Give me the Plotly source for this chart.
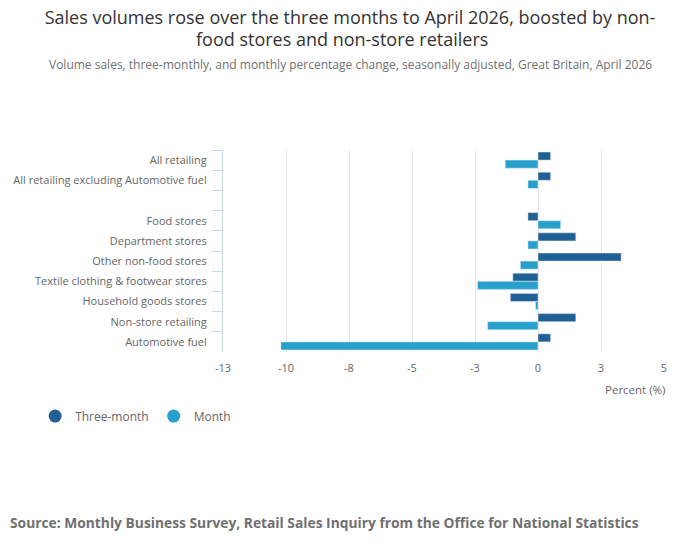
import plotly.graph_objects as go

categories = [
    "All retailing",
    "All retailing excluding Automotive fuel",
    " ",
    "Food stores",
    "Department stores",
    "Other non-food stores",
    "Textile clothing & footwear stores",
    "Household goods stores",
    "Non-store retailing",
    "Automotive fuel",
]
three_month = [0.5, 0.5, None, -0.4, 1.5, 3.3, -1.0, -1.1, 1.5, 0.5]
month = [-1.3, -0.4, None, 0.9, -0.4, -0.7, -2.4, -0.1, -2.0, -10.2]

tick_vals = [-12.5, -10, -7.5, -5, -2.5, 0, 2.5, 5]
tick_text = ["-13", "-10", "-8", "-5", "-3", "0", "3", "5"]

dark_blue = "#206095"
light_blue = "#27a0cc"
font_family = "Open Sans"

fig = go.Figure()
fig.add_trace(go.Bar(y=categories, x=three_month, orientation="h", name="Three-month",
                     marker_color=dark_blue, showlegend=False))
fig.add_trace(go.Bar(y=categories, x=month, orientation="h", name="Month",
                     marker_color=light_blue, showlegend=False))

# legend entries drawn as circles
for name, col in [("Three-month", dark_blue), ("Month", light_blue)]:
    fig.add_trace(go.Scatter(x=[None], y=[None], mode="markers", name=name,
                             marker=dict(symbol="circle", size=13, color=col)))

fig.update_layout(
    width=700, height=549,
    paper_bgcolor="white", plot_bgcolor="white",
    font=dict(family=font_family, color="#666666", size=11),
    margin=dict(l=223, r=36, t=150, b=197),
    barmode="group", bargap=0.2, bargroupgap=0,
    title=dict(
        text="Sales volumes rose over the three months to April 2026, boosted by non-",
        x=0.5, xanchor="center", y=1 - 18 / 549, yanchor="middle", yref="container",
        font=dict(size=18, color="#333333", family=font_family),
    ),
    legend=dict(orientation="h", x=-0.426, xanchor="left", y=-0.317, yanchor="middle",
                font=dict(size=12, color="#666666"), itemwidth=30),
)

fig.update_xaxes(
    range=[-12.5, 5], tickvals=tick_vals, ticktext=tick_text,
    showgrid=True, gridcolor="#e6e6e6", gridwidth=1, zeroline=False,
    showline=False, ticks="", ticklabelstandoff=8, tickfont=dict(size=11, color="#666666"),
)
fig.update_yaxes(
    autorange="reversed", type="category",
    showline=True, linecolor="#ccd6eb", linewidth=1,
    ticks="outside", tickson="boundaries", ticklen=10, tickcolor="#ccd6eb",
    ticklabelstandoff=13,
    showgrid=False, tickfont=dict(size=11, color="#666666"),
)

fig.add_annotation(text="food stores and non-store retailers",
                   xref="paper", yref="paper", x=0.27, y=(352 - 39) / 202, xanchor="center", yanchor="middle",
                   showarrow=False, font=dict(size=18, color="#333333"))
fig.add_annotation(text="Volume sales, three-monthly, and monthly percentage change, seasonally adjusted, Great Britain, April 2026",
                   xref="paper", yref="paper", x=0.288, y=(352 - 64) / 202, xanchor="center", yanchor="middle",
                   showarrow=False, font=dict(size=12, color="#707070"))
fig.add_annotation(text="Percent (%)", xref="paper", yref="paper", x=1 + 3 / 441, y=-37 / 202,
                   xanchor="right", yanchor="middle", showarrow=False,
                   font=dict(size=11.5, color="#666666"))
fig.add_annotation(text="<b>Source: Monthly Business Survey, Retail Sales Inquiry from the Office for National Statistics</b>",
                   xref="paper", yref="paper", x=-215 / 441, y=-170 / 202,
                   xanchor="left", yanchor="middle", showarrow=False,
                   font=dict(size=13.8, color="#707070"))

fig.write_html("out.html", config={"displayModeBar": False},
               post_script="document.body.style.margin='0';")
